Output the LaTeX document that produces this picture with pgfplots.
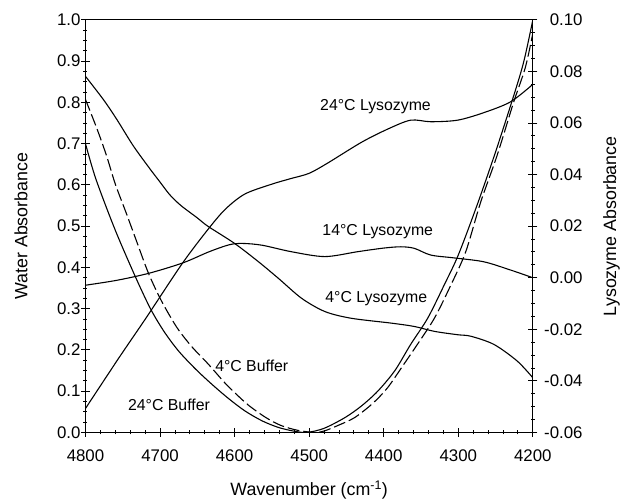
\documentclass[border=0pt]{standalone}
\usepackage{fontspec}
\setmainfont{Liberation Sans}
\usepackage{pgfplots}
\pgfplotsset{compat=1.18}

\begin{document}
\begin{tikzpicture}
\tikzset{lbl/.style={font=\fontsize{16}{16}\selectfont}}
\pgfplotsset{
  every axis/.append style={
    scale only axis, width=450bp, height=415bp,
    xmin=4200, xmax=4800, x dir=reverse,
    tick align=center, major tick length=9bp, minor tick length=4bp,
    every tick/.style={line width=0.9bp, black},
    axis line style={line width=1.1bp},
    ticklabel style={font=\fontsize{17}{17}\selectfont},
    label style={font=\fontsize{18}{18}\selectfont},
    /pgf/number format/assume math mode=true,
  },
  curve/.style={black, line width=1.1bp, smooth, tension=0.5},
}
% water absorbance (buffer), left axis
\begin{axis}[
  name=ax,
  ymin=0, ymax=1,
  xtick={4200,4300,4400,4500,4600,4700,4800}, minor x tick num=4,
  ytick={0,0.1,0.2,0.3,0.4,0.5,0.6,0.7,0.8,0.9,1.0}, minor y tick num=3,
  xtick pos=bottom, ytick pos=left,
  xticklabel style={yshift=-9bp, /pgf/number format/1000 sep={}},
  yticklabel style={xshift=3bp, /pgf/number format/.cd, fixed, fixed zerofill, precision=1},
  xlabel={Wavenumber (cm\textsuperscript{-1})},
  ylabel={Water Absorbance},
  xlabel style={at={(axis description cs:0.5,-0.1398)}, anchor=center},
  ylabel style={at={(axis description cs:-0.144,0.5)}, anchor=center},
]
% 24 C buffer
\addplot[curve] coordinates {
  (4800,0.700) (4786,0.614) (4760,0.490) (4732,0.373) (4712,0.297)
  (4694,0.243) (4675,0.197) (4652,0.153) (4630,0.116) (4608,0.082)
  (4586,0.052) (4563,0.028) (4541,0.012) (4520,0.003) (4503,0.000)
  (4480,0.010) (4452,0.036) (4430,0.064) (4408,0.100) (4385,0.150)
  (4364,0.213) (4341,0.277) (4319,0.357) (4300,0.430) (4275,0.550)
  (4250,0.680) (4225,0.820) (4212,0.900) (4200,1.000)
};
% 4 C buffer
\addplot[curve, dash pattern=on 12bp off 4bp] coordinates {
  (4800,0.807) (4785,0.738) (4772,0.672) (4760,0.602) (4745,0.530)
  (4732,0.466) (4716,0.388) (4701,0.329) (4688,0.286) (4675,0.248)
  (4657,0.207) (4635,0.165) (4613,0.120) (4595,0.088) (4580,0.064)
  (4558,0.036) (4538,0.017) (4515,0.005) (4492,0.000) (4479,0.004)
  (4460,0.018) (4439,0.036) (4415,0.070) (4395,0.108) (4375,0.160)
  (4355,0.213) (4332,0.277) (4310,0.357) (4290,0.438) (4270,0.558)
  (4248,0.671) (4226,0.799) (4210,0.885) (4200,0.968)
};
\node[lbl] at (axis cs:4411,0.790) {24°C Lysozyme};
\node[lbl] at (axis cs:4408,0.488) {14°C Lysozyme};
\node[lbl] at (axis cs:4410,0.324) {4°C Lysozyme};
\node[lbl] at (axis cs:4577,0.161) {4°C Buffer};
\node[lbl] at (axis cs:4688,0.068) {24°C Buffer};
\end{axis}

% lysozyme absorbance, right axis
\begin{axis}[
  ymin=-0.06, ymax=0.10,
  axis x line=none, axis y line*=right,
  ytick={-0.06,-0.04,-0.02,0,0.02,0.04,0.06,0.08,0.10}, minor y tick num=3,
  yticklabel style={text width=39bp, align=right, xshift=3bp,
    /pgf/number format/.cd, fixed, fixed zerofill, precision=2},
  ylabel={Lysozyme Absorbance},
  ylabel style={at={(axis description cs:1.1756,0.5)}, anchor=center},
]
% 24 C lysozyme
\addplot[curve] coordinates {
  (4800,-0.0507) (4755,-0.0310) (4719,-0.0157) (4670,0.0056) (4635,0.0190)
  (4612,0.0267) (4586,0.0325) (4550,0.0363) (4524,0.0385) (4500,0.0405)
  (4475,0.0445) (4430,0.0525) (4395,0.0576) (4364,0.0611) (4337,0.0605)
  (4301,0.0611) (4266,0.0640) (4230,0.0682) (4200,0.0750)
};
% 14 C lysozyme
\addplot[curve] coordinates {
  (4800,-0.0029) (4758,-0.0010) (4714,0.0018) (4669,0.0058) (4634,0.0101)
  (4607,0.0128) (4589,0.0133) (4563,0.0126) (4524,0.0101) (4479,0.0082)
  (4435,0.0101) (4400,0.0115) (4377,0.0120) (4359,0.0114) (4337,0.0088)
  (4306,0.0077) (4266,0.0062) (4230,0.0030) (4200,0.0000)
};
% 4 C lysozyme
\addplot[curve] coordinates {
  (4800,0.0781) (4776,0.0691) (4758,0.0614) (4736,0.0512) (4714,0.0424)
  (4700,0.0371) (4687,0.0322) (4672,0.0280) (4650,0.0232) (4636,0.0200)
  (4600,0.0133) (4568,0.0062) (4541,-0.0003) (4510,-0.0080) (4479,-0.0131)
  (4444,-0.0157) (4390,-0.0176) (4359,-0.0189) (4332,-0.0208) (4301,-0.0221)
  (4283,-0.0227) (4252,-0.0259) (4221,-0.0323) (4200,-0.0388)
};
\end{axis}
\path ([shift={(-86bp,-69bp)}]ax.south west) rectangle ([shift={(87bp,20bp)}]ax.north east);
\end{tikzpicture}
\end{document}
